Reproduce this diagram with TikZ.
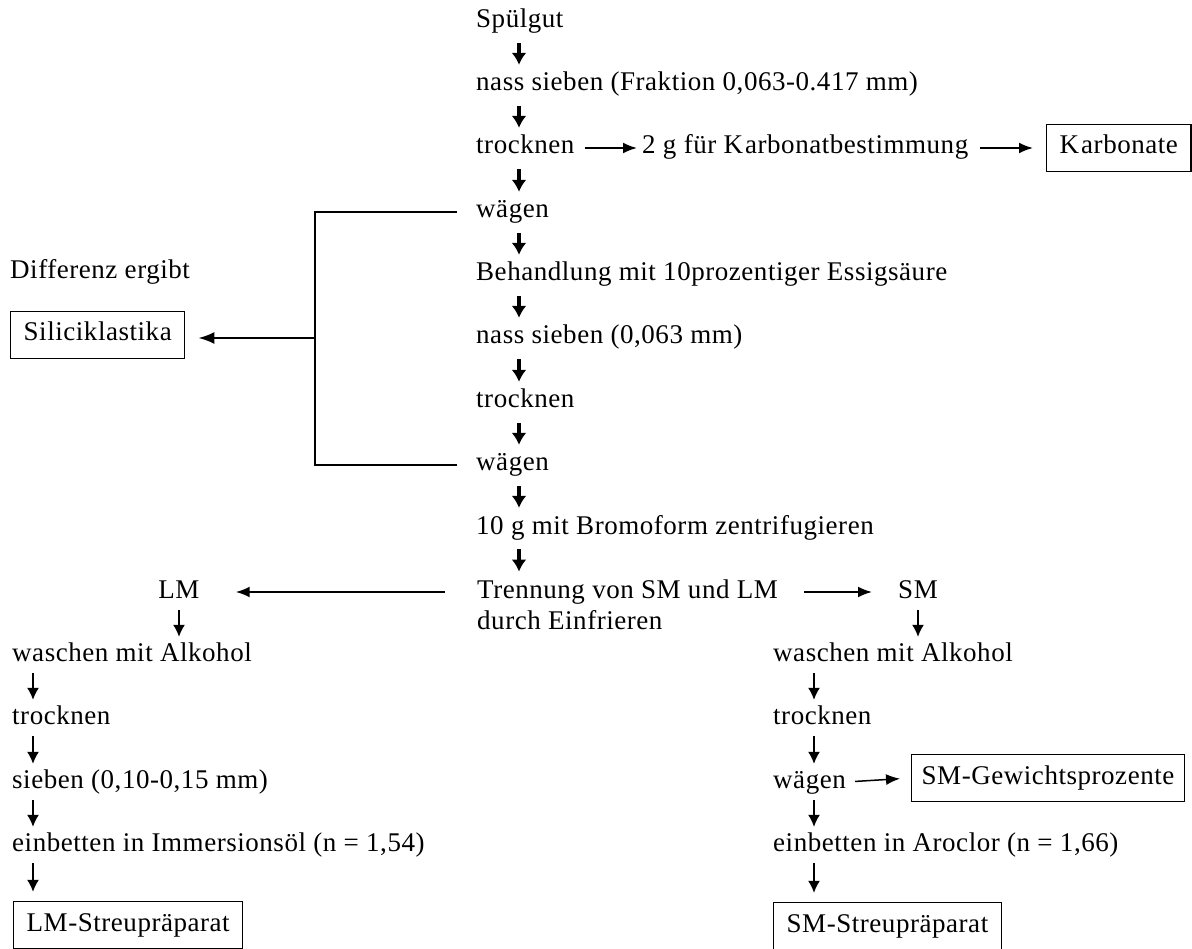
\documentclass[tikz,border=0pt]{standalone}
\usepackage{fontspec}
\setmainfont[LetterSpace=2]{Liberation Serif}
\usetikzlibrary{arrows.meta}
\begin{document}
\begin{tikzpicture}[x=1pt,y=-1pt,
  every node/.style={font=\fontsize{27}{30.5}\selectfont},
  lbl/.style={anchor=west, inner sep=0pt, text height=18pt, text depth=6pt},
  boxed/.style={draw, line width=1.4pt, anchor=west, inner xsep=13pt, inner ysep=0pt, text height=19pt, text depth=7pt, minimum height=47pt},
  mainarr/.style={line width=3.2pt, -{Latex[length=12pt,width=15pt]}, shorten <=9pt, shorten >=8pt},
  harr/.style={line width=2pt, -{Latex[length=14pt,width=11pt]}},
  smallarr/.style={line width=1.4pt, -{Latex[length=12pt,width=12pt]}, shorten <=6pt, shorten >=6pt},
  bracket/.style={line width=2pt}
]
\useasboundingbox (0,0) rectangle (1192,949);

% main column
\node[lbl] (a0) at (476,22) {Spülgut};
\node[lbl] (a1) at (476,85) {nass sieben (Fraktion 0,063-0.417 mm)};
\node[lbl] (a2) at (476,148) {trocknen};
\node[lbl] (k1) at (642,148) {2 g für K\kern2pt arbonatbestimmung};
\node[boxed] (k2) at (1046,148) {K\kern2pt arbonate};
\node[lbl] (a3) at (476,212) {wägen};
\node[lbl] (a4) at (476,275) {Behandlung mit 10prozentiger Essigsäure};
\node[lbl] (a5) at (476,338) {nass sieben (0,063 mm)};
\node[lbl] (a6) at (476,402) {trocknen};
\node[lbl] (a7) at (476,465) {wägen};
\node[lbl] (a8) at (476,528) {10 g mit Bromoform zentrifugieren};
\node[anchor=base west, inner sep=0pt, align=left] (a9) at (477,629) {Trennung von SM und LM\\durch Einfrieren};

\foreach \u/\v in {a0/a1,a1/a2,a2/a3,a3/a4,a4/a5,a5/a6,a6/a7,a7/a8}
  \draw[mainarr] ([xshift=43pt]\u.south west) -- ([xshift=43pt]\v.north west);
\draw[mainarr] ([xshift=43pt]a8.south west) -- ([xshift=42pt]a9.north west);

\draw[harr, shorten <=10pt, shorten >=5pt] (a2.east) -- (k1.west);
\draw[harr, shorten <=12pt, shorten >=13pt] (k1.east) -- (k2.west);

% Siliciklastika
\node[lbl] (dif) at (10,273) {Differenz ergibt};
\node[boxed] (sil) at (10,335) {Siliciklastika};
\coordinate (bx) at (315,338);
\draw[bracket] ([xshift=-19pt]a3.west) -| (bx) |- ([xshift=-19pt]a7.west);
\draw[harr, -{Latex[length=16pt,width=12pt]}, shorten >=13pt] (bx) -- (bx -| sil.east);

% LM / SM
\node[lbl, anchor=center] (lm) at (179,592) {LM};
\node[lbl, anchor=center] (sm) at (918,592) {SM};
\draw[harr, shorten <=32pt, shorten >=36pt] (a9.west |- lm) -- (lm.east);
\draw[harr, shorten <=26pt, shorten >=26pt] (a9.east |- sm) -- (sm.west);

% left column
\node[lbl] (b1) at (12,655) {waschen mit Alkohol};
\node[lbl] (b2) at (12,718) {trocknen};
\node[lbl] (b3) at (12,782) {sieben (0,10-0,15 mm)};
\node[lbl] (b4) at (12,845) {einbetten in Immersionsöl (n = 1,54)};
\node[boxed] (b5) at (13,925) {LM-Streupräparat};
\draw[smallarr] (lm.south) -- (lm.south |- b1.north);
\foreach \u/\v in {b1/b2,b2/b3,b3/b4}
  \draw[smallarr] ([xshift=21pt]\u.south west) -- ([xshift=21pt]\v.north west);
\draw[smallarr, shorten >=9pt] ([xshift=21pt]b4.south west) -- ([xshift=20pt]b5.north west);

% right column
\node[lbl] (c1) at (773,655) {waschen mit Alkohol};
\node[lbl] (c2) at (773,718) {trocknen};
\node[lbl] (c3) at (773,782) {wägen};
\node[lbl] (c4) at (773,845) {einbetten in Aroclor (n = 1,66)};
\node[boxed] (c5) at (773,926) {SM-Streupräparat};
\node[boxed, inner xsep=10pt] (gw) at (911,778) {SM-Gewichtsprozente};
\draw[smallarr] (sm.south) -- (sm.south |- c1.north);
\foreach \u/\v in {c1/c2,c2/c3,c3/c4}
  \draw[smallarr] ([xshift=41pt]\u.south west) -- ([xshift=41pt]\v.north west);
\draw[smallarr, shorten >=9pt] ([xshift=41pt]c4.south west) -- ([xshift=41pt]c5.north west);
\draw[harr, line width=1.5pt, shorten <=9pt, shorten >=11pt] (c3.east) -- (gw.west);
\end{tikzpicture}
\end{document}
